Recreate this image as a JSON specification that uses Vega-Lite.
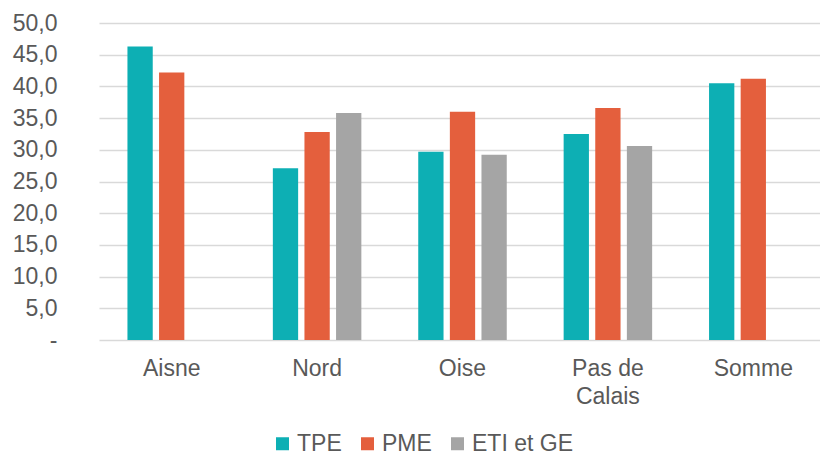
{
  "$schema": "https://vega.github.io/schema/vega-lite/v6.json",
  "width": 721,
  "height": 317,
  "autosize": {"type": "none"},
  "padding": {"left": 99, "top": 23, "right": 0, "bottom": 117},
  "background": "white",
  "config": {
    "view": {"stroke": null},
    "font": "Liberation Sans",
    "axis": {"labelFont": "Liberation Sans", "labelColor": "#595959", "labelFontSize": 23},
    "legend": {"labelFont": "Liberation Sans", "labelColor": "#595959", "labelFontSize": 23}
  },
  "data": {
    "values": [
      {"dept": "Aisne", "cat": "TPE", "value": 46.3},
      {"dept": "Aisne", "cat": "PME", "value": 42.2},
      {"dept": "Nord", "cat": "TPE", "value": 27.1},
      {"dept": "Nord", "cat": "PME", "value": 32.8},
      {"dept": "Nord", "cat": "ETI et GE", "value": 35.8},
      {"dept": "Oise", "cat": "TPE", "value": 29.7},
      {"dept": "Oise", "cat": "PME", "value": 36.0},
      {"dept": "Oise", "cat": "ETI et GE", "value": 29.2},
      {"dept": "Pas de Calais", "cat": "TPE", "value": 32.5},
      {"dept": "Pas de Calais", "cat": "PME", "value": 36.6},
      {"dept": "Pas de Calais", "cat": "ETI et GE", "value": 30.6},
      {"dept": "Somme", "cat": "TPE", "value": 40.5},
      {"dept": "Somme", "cat": "PME", "value": 41.2}
    ]
  },
  "mark": {"type": "bar"},
  "encoding": {
    "x": {
      "field": "dept",
      "type": "nominal",
      "sort": ["Aisne", "Nord", "Oise", "Pas de Calais", "Somme"],
      "scale": {"range": [0, 727], "paddingInner": 0, "paddingOuter": 0},
      "axis": {
        "title": null,
        "labelAngle": 0,
        "domain": false,
        "ticks": false,
        "labelPadding": 17,
        "labelLineHeight": 28,
        "labelExpr": "datum.label == 'Pas de Calais' ? ['Pas de', 'Calais'] : datum.label"
      }
    },
    "xOffset": {
      "field": "cat",
      "type": "nominal",
      "sort": ["TPE", "PME", "ETI et GE"],
      "scale": {"paddingInner": 0.2, "paddingOuter": 0.9}
    },
    "y": {
      "field": "value",
      "type": "quantitative",
      "scale": {"domain": [0, 50], "nice": false},
      "axis": {
        "title": null,
        "values": [0, 5, 10, 15, 20, 25, 30, 35, 40, 45, 50],
        "domain": false,
        "ticks": false,
        "labelPadding": 42,
        "gridColor": "#d9d9d9",
        "gridWidth": 1.3,
        "labelExpr": "datum.value == 0 ? '-\u00a0\u00a0' : replace(format(datum.value, '.1f'), '.', ',')"
      }
    },
    "color": {
      "field": "cat",
      "type": "nominal",
      "sort": ["TPE", "PME", "ETI et GE"],
      "scale": {"domain": ["TPE", "PME", "ETI et GE"], "range": ["#0DAFB4", "#E45F3D", "#A5A5A5"]},
      "legend": {
        "title": null,
        "orient": "none",
        "direction": "horizontal",
        "legendX": 172,
        "legendY": 409,
        "symbolType": "square",
        "symbolSize": 169,
        "symbolStrokeWidth": 0,
        "labelOffset": 3,
        "columnPadding": 14
      }
    }
  }
}
